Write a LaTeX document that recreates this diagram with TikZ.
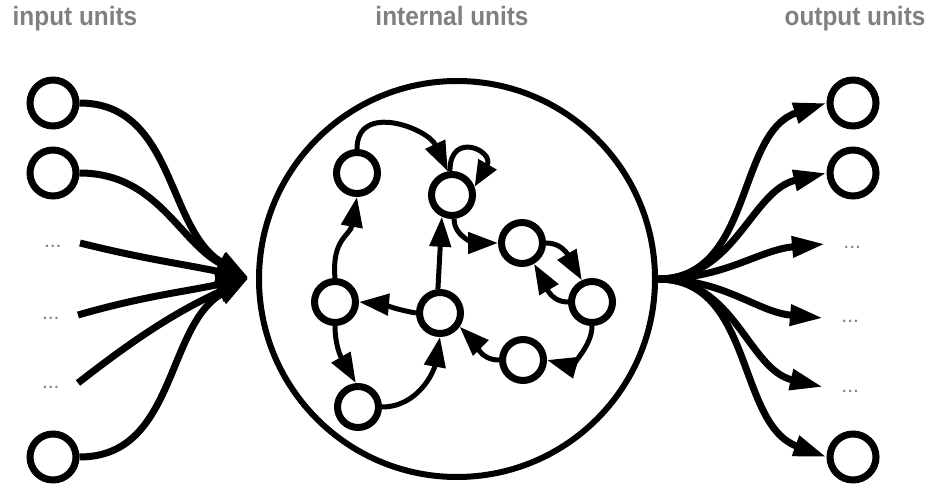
\documentclass[tikz,border=0pt]{standalone}
\usepackage{fontspec}
\setmainfont{Liberation Sans}
\newfontfamily\headfont[FakeStretch=0.92]{Liberation Sans}
\usetikzlibrary{arrows.meta}
\definecolor{labelgray}{RGB}{128,128,128}
\begin{document}
\begin{tikzpicture}[x=1pt,y=1pt,
  unit/.style={circle,draw,line width=7pt,minimum size=46pt,inner sep=0pt},
  cell/.style={circle,draw,line width=7pt,minimum size=41pt,inner sep=0pt},
  pool/.style={circle,draw,line width=6pt,minimum size=396pt,inner sep=0pt},
  heading/.style={text=labelgray,font=\headfont\fontsize{26.5}{30}\selectfont\bfseries,anchor=base,inner sep=0pt},
  more/.style={text=labelgray,font=\fontsize{21}{25}\selectfont,text height=10pt,text depth=0pt,minimum width=54pt,inner sep=0pt},
  feed/.style={line width=7pt,-{Triangle[length=33pt,width=20pt]}},
  link/.style={line width=5pt,-{Triangle[length=30pt,width=21pt]}},
  selflink/.style={line width=5pt,-{Triangle[length=26pt,width=20pt]}},
]
\useasboundingbox (0,0) rectangle (933,487);

% column headings
\node[heading] (hin)  at (75,461)  {input units};
\node[heading] (hint) at (452,461) {internal units};
\node[heading] (hout) at (855,461) {output units};

% input layer
\node[unit] (i1) at (53,384) {};
\node[unit] (i2) at (53,314) {};
\node[more,anchor=east] (li1) at (80,244) {...};
\node[more,anchor=east] (li2) at (78,172) {...};
\node[more,anchor=east] (li3) at (78,104) {...};
\node[unit] (i6) at (53,30) {};

% output layer
\node[unit] (o1) at (853,384) {};
\node[unit] (o2) at (853,314) {};
\node[more,anchor=west] (lo1) at (825,243) {...};
\node[more,anchor=west] (lo2) at (823,169) {...};
\node[more,anchor=west] (lo3) at (823,100) {...};
\node[unit] (o6) at (853,30) {};

% reservoir
\node[pool] (pool) at (457,208) {};
\coordinate (pin) at (249,209);
\coordinate (pout) at (pool.east);

\node[cell] (A) at (357,314) {};
\node[cell] (B) at (452,292) {};
\node[cell] (C) at (522,244) {};
\node[cell] (D) at (592,185) {};
\node[cell] (E) at (523,127) {};
\node[cell] (F) at (440,174) {};
\node[cell] (G) at (335,185) {};
\node[cell] (H) at (358,80)  {};

% input connections
\draw[feed] (i1.east) to[out=0,in=150] (pin);
\draw[feed] (i2.east) to[out=0,in=153] (pin);
\draw[feed] (li1.east) to[out=-14,in=168] (pin);
\draw[feed] (li2.east) to[out=16,in=192] (pin);
\draw[feed] (li3.east) to[out=38,in=205] (pin);
\draw[feed] (i6.east) to[out=0,in=210] (pin);

% output connections
\draw[feed] (pout) to[out=0,in=198] (o1.west);
\draw[feed] (pout) to[out=0,in=193] (o2.west);
\draw[feed] (pout) to[out=0,in=185] (lo1.west);
\draw[feed] (pout) to[out=0,in=175] (lo2.west);
\draw[feed] (pout) to[out=0,in=167] (lo3.west);
\draw[feed] (pout) to[out=0,in=160] (o6.west);

% recurrent connections
\draw[link] (A.north) to[out=90,in=115,looseness=1.3] (B.100);
\draw[selflink] (B.95) to[out=90,in=60,looseness=3.6] (B.20);
\draw[link] (B.-85) to[out=-90,in=180] (C.west);
\draw[link] (C.east) to[out=0,in=120] (D.115);
\draw[link] (D.west) to[out=180,in=-60] (C.-60);
\draw[link] (D.south) to[out=-90,in=-15] (E.east);
\draw[link] (E.west) to[out=180,in=-45] (F.-35);
\draw[link] (F.west) to[out=170,in=-5] (G.east);
\draw[link] (F.95) -- (B.-115);
\draw[link] (G.north) to[out=95,in=-100,looseness=1.2] (A.south);
\draw[link] (G.south) to[out=-90,in=120] (H.95);
\draw[link] (H.east) to[out=0,in=-100] (F.south);
\end{tikzpicture}
\end{document}
